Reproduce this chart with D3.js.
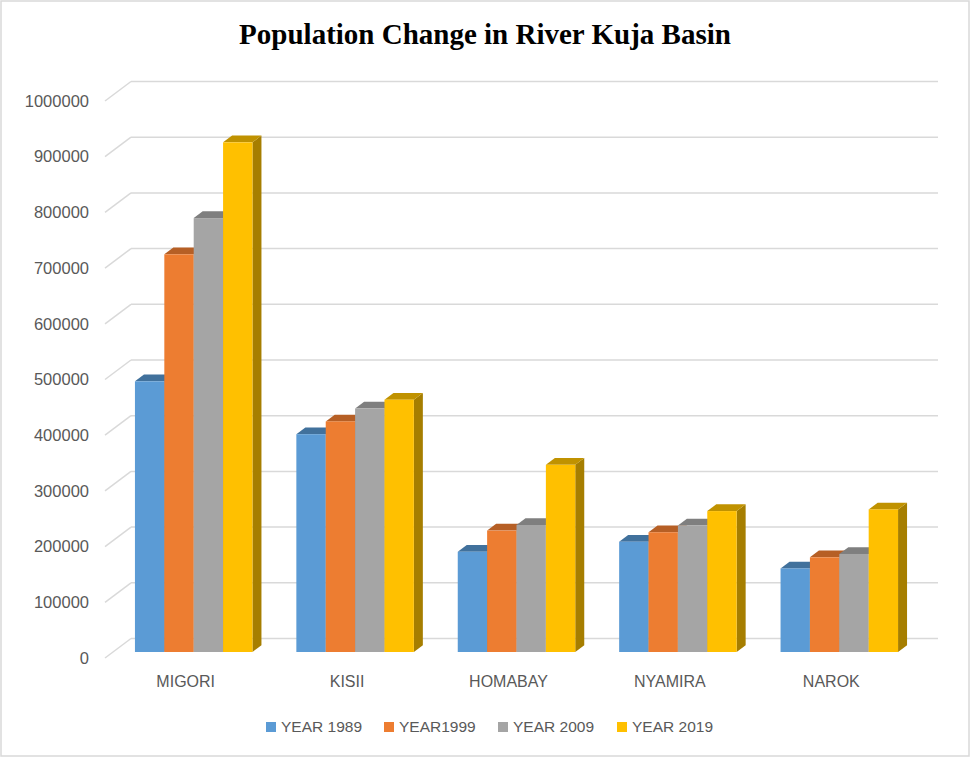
<!DOCTYPE html>
<html>
<head>
<meta charset="utf-8">
<style>
  body { margin: 0; background: #fff; }
  svg text { font-family: "Liberation Sans", Arial, sans-serif; fill: #595959; }
</style>
</head>
<body>
<div id="chart"></div>
<script src="https://d3js.org/d3.v7.min.js"></script>
<script>
// chart data
var categories = ["MIGORI", "KISII", "HOMABAY", "NYAMIRA", "NAROK"];
var seriesNames = ["YEAR 1989", "YEAR1999", "YEAR 2009", "YEAR 2019"];
var year1989 = [486000, 391000, 180000, 198000, 150000];
var year1999 = [714000, 414000, 218000, 215000, 170000];
var year2009 = [779000, 437000, 228000, 227000, 176000];
var year2019 = [915000, 453000, 336000, 253000, 256000];
var tickValues = [0, 100000, 200000, 300000, 400000, 500000, 600000, 700000, 800000, 900000, 1000000];

var seriesValues = [year1989, year1999, year2009, year2019];
var colors = [
  {front: "#5b9bd5", top: "#41719c", side: "#3f6d96"},
  {front: "#ed7d31", top: "#b65f25", side: "#a9561f"},
  {front: "#a5a5a5", top: "#7f7f7f", side: "#767676"},
  {front: "#ffc000", top: "#c09200", side: "#a67e00"}
];

var W = 971, H = 758;
// front plane of the 3d box
var left = 105, right = 912, base = 658, topY = 101;
// depth of the box (back wall offset)
var DX = 26, DY = 19.5;
// bar depth range (fraction of box depth)
var z0 = 8 / 26, z1 = 17 / 26;

var svg = d3.select("#chart").append("svg").attr("width", W).attr("height", H);

// outer border
svg.append("rect").attr("x", 1).attr("y", 1).attr("width", W - 3).attr("height", H - 3)
  .attr("fill", "#fff").attr("stroke", "#d9d9d9").attr("stroke-width", 1.5);

// title
svg.append("text")
  .attr("x", 485).attr("y", 44)
  .attr("text-anchor", "middle")
  .style("font-family", "'Liberation Serif', 'Times New Roman', serif")
  .style("font-weight", "bold").style("font-size", "29px").style("fill", "#000")
  .text("Population Change in River Kuja Basin");

var x = d3.scaleBand().domain(categories).range([left, right]);
var y = d3.scaleLinear().domain([0, 1000000]).range([base, topY]);
var groupW = x.bandwidth() * 0.728;
var xs = d3.scaleBand().domain(seriesNames).range([0, groupW]);
var off = (x.bandwidth() - groupW) / 2;

// gridlines: back wall + left wall diagonals
var grid = svg.append("g").attr("stroke", "#d9d9d9").attr("stroke-width", 1.5).attr("fill", "none");
tickValues.forEach(function (t) {
  grid.append("line")
    .attr("x1", left + DX).attr("x2", right + DX)
    .attr("y1", y(t) - DY).attr("y2", y(t) - DY);
  grid.append("line")
    .attr("x1", left).attr("x2", left + DX)
    .attr("y1", y(t)).attr("y2", y(t) - DY);
});

// value axis labels
var yAxis = svg.append("g").attr("transform", "translate(" + left + ",0)")
  .call(d3.axisLeft(y).tickValues(tickValues).tickSize(0).tickPadding(16).tickFormat(d3.format("d")));
yAxis.select(".domain").remove();
yAxis.selectAll("text").style("font-size", "16.5px").style("fill", "#595959")
  .style("font-family", "'Liberation Sans', Arial, sans-serif");

// category labels
var xAxis = svg.append("g").attr("transform", "translate(0," + base + ")")
  .call(d3.axisBottom(x).tickSize(0).tickPadding(18));
xAxis.select(".domain").remove();
xAxis.selectAll("text").style("font-size", "16px").style("fill", "#595959")
  .style("font-family", "'Liberation Sans', Arial, sans-serif");

// 3d bars
var bars = svg.append("g");
categories.forEach(function (c, ci) {
  seriesNames.forEach(function (s, si) {
    var v = seriesValues[si][ci];
    var bx = x(c) + off + xs(s) + z0 * DX;
    var bw = xs.bandwidth();
    var by = y(v) - z0 * DY;
    var bb = y(0) - z0 * DY;
    var ddx = (z1 - z0) * DX, ddy = (z1 - z0) * DY;
    var col = colors[si];
    // right side
    bars.append("path")
      .attr("d", "M" + (bx + bw) + "," + by + "L" + (bx + bw + ddx) + "," + (by - ddy) +
        "L" + (bx + bw + ddx) + "," + (bb - ddy) + "L" + (bx + bw) + "," + bb + "Z")
      .attr("fill", col.side);
    // top
    bars.append("path")
      .attr("d", "M" + bx + "," + by + "L" + (bx + ddx) + "," + (by - ddy) +
        "L" + (bx + bw + ddx) + "," + (by - ddy) + "L" + (bx + bw) + "," + by + "Z")
      .attr("fill", col.top);
    // front
    bars.append("rect")
      .attr("x", bx).attr("y", by).attr("width", bw).attr("height", bb - by)
      .attr("fill", col.front);
  });
});

// legend
var legendX = [266, 384, 498, 617];
var legend = svg.append("g");
seriesNames.forEach(function (s, i) {
  legend.append("rect").attr("x", legendX[i]).attr("y", 722).attr("width", 10).attr("height", 10)
    .attr("fill", colors[i].front);
  legend.append("text").attr("x", legendX[i] + 15).attr("y", 732)
    .style("font-size", "15.5px").style("fill", "#595959")
    .text(s);
});
</script>
</body>
</html>
